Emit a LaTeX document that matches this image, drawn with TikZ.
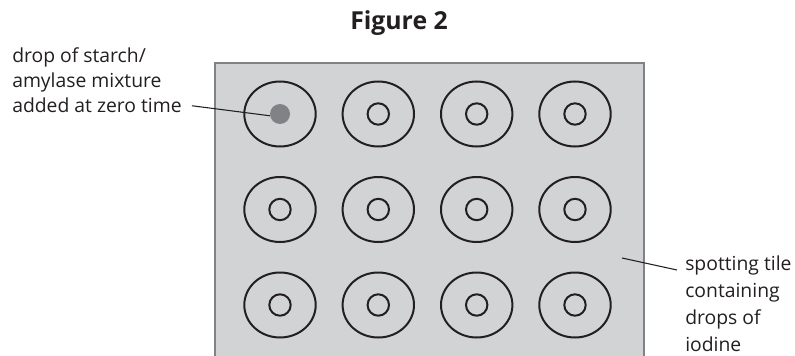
\documentclass[tikz,border=0pt]{standalone}
\usepackage{fontspec}
\setmainfont{Open Sans}
\newfontfamily\titlefont{Open Sans}
\usetikzlibrary{shapes.geometric}
\definecolor{ink}{HTML}{231F20}
\definecolor{tilegrey}{HTML}{D1D3D4}
\definecolor{tileedge}{HTML}{808285}
\definecolor{dropgrey}{HTML}{808285}
\begin{document}
\begin{tikzpicture}[x=0.75pt,y=-0.75pt,
  well/.style={ellipse,draw=ink,line width=1.5pt,minimum width=53.55pt,minimum height=48.75pt,inner sep=0pt},
  spot/.style={circle,draw=ink,line width=1.5pt,minimum size=16.05pt,inner sep=0pt},
  drop/.style={circle,fill=dropgrey,minimum size=15pt,inner sep=0pt},
  lab/.style={font=\fontsize{14.5pt}{20pt}\selectfont,inner sep=0pt,anchor=base west,text=ink},
  leader/.style={line width=0.8pt,draw=ink}]
\useasboundingbox (0,0) rectangle (795,356);
% tile
\fill[tilegrey] (215,63) rectangle (644,356);
\draw[tileedge,line width=1.1pt] (215,356) -- (215,63) -- (644,63) -- (644,356);
\coordinate (tilept) at (622,258);
% wells
\foreach \c/\x in {1/280,2/378.3,3/476.7,4/575}{
  \foreach \r/\y in {1/114,2/209.5,3/305}{
    \node[well] (w\r\c) at (\x,\y) {};
    \ifnum\r\c=11
      \node[drop] (dot) at (w\r\c) {};
    \else
      \node[spot] (s\r\c) at (w\r\c) {};
    \fi
  }
}
% title
\node[font=\titlefont\bfseries\fontsize{18.6pt}{22pt}\selectfont,anchor=base,inner sep=0pt,text=ink] (title) at (399,30) {Figure 2};
% left label
\node[lab] (a1) at (12,63) {drop of starch/};
\node[lab] (a2) at (12,88) {amylase mixture};
\node[lab,inner xsep=7.5pt] (a3) at (2,113) {added at zero time};
% right label
\node[lab,inner xsep=6pt] (b1) at (677,270) {spotting tile};
\node[lab] (b2) at (685,297) {containing};
\node[lab] (b3) at (685,324) {drops of};
\node[lab] (b4) at (685,351.5) {iodine};
% leaders
\draw[leader] (a3.east) -- (dot.190);
\draw[leader] (tilept) -- (b1.base west);
\end{tikzpicture}
\end{document}
